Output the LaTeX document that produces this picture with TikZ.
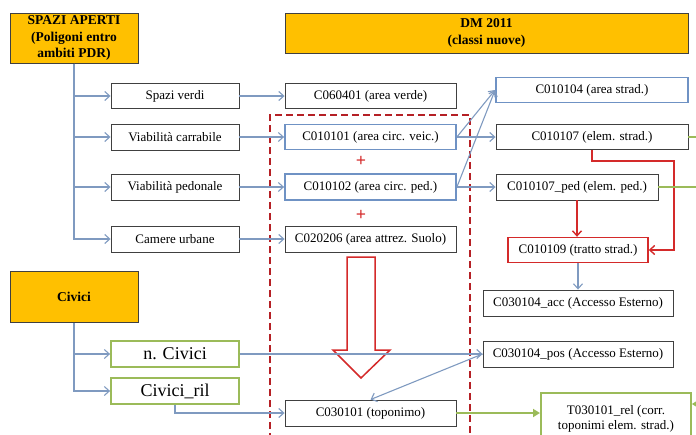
\documentclass[tikz,border=0pt]{standalone}
\usepackage{fontspec}
\setmainfont{Liberation Serif}
\usetikzlibrary{arrows.meta,positioning}
\definecolor{dmOrange}{HTML}{FFC000}
\definecolor{dmGrey}{HTML}{404040}
\definecolor{dmLink}{HTML}{7F9AC0}
\definecolor{dmBlue}{HTML}{6F92C4}
\definecolor{dmGreen}{HTML}{9BBB59}
\definecolor{dmRed}{HTML}{D42A2A}
\definecolor{dmDark}{HTML}{B52025}
\tikzset{
  >={Straight Barb[length=5pt,width=9pt]},
  head/.style={draw=dmGrey, fill=dmOrange, line width=1pt, align=center,
              font=\fontsize{13.5}{16.5}\selectfont\bfseries, inner sep=0pt},
  src/.style={draw=dmGrey, line width=0.9pt, minimum width=128pt, minimum height=26pt,
              font=\fontsize{13}{16}\selectfont, inner sep=0pt},
  civ/.style={src, draw=dmGreen, line width=1.8pt, font=\fontsize{18}{20}\selectfont},
  cls/.style={draw=dmGrey, line width=0.9pt, minimum height=26pt,
              font=\fontsize{13}{16}\selectfont, inner sep=0pt, align=center},
  clsblue/.style={cls, draw=dmBlue, line width=1.8pt},
  clsred/.style={cls, draw=dmRed, line width=1.4pt},
  clsgreen/.style={cls, draw=dmGreen, line width=1.8pt},
  plus/.style={text=dmRed, font=\fontsize{18}{20}\selectfont\bfseries, inner sep=0pt},
  link/.style={->, draw=dmLink, line width=1.1pt},
  redlink/.style={->, draw=dmRed, line width=1.4pt},
  greenlink/.style={-{Triangle[length=7pt,width=8pt]}, draw=dmGreen, line width=2pt},
  greenline/.style={draw=dmGreen, line width=2pt},
}

\begin{document}
\begin{tikzpicture}[x=1pt,y=-1pt]
  \useasboundingbox (0,0) rectangle (696,434);
  \clip (0,0) rectangle (696,434);

  % headers
  \node[head, minimum width=128pt, minimum height=50pt] (spazi) at (74,38)
    {SPAZI APERTI\\(Poligoni entro\\ambiti PDR)};
  \node[head, minimum width=403pt, minimum height=40pt] (dm) at (486.5,33)
    {DM 2011\\(classi nuove)};
  \node[head, minimum width=128pt, minimum height=51pt] (civici) at (74,297) {Civici};

  % source classes
  \node[src, minimum height=25pt] (verdi) at (175,96) {Spazi verdi};
  \node[src] (carr) at (175,137) {Viabilità carrabile};
  \node[src] (pedo) at (175,187) {Viabilità pedonale};
  \node[src] (camere) at (175,239) {Camere urbane};
  \node[civ] (ncivici) at (175,354) {n. Civici};
  \node[civ] (civril) at (175,391) {Civici\_ril};

  % DM 2011 classes
  \node[cls, minimum width=171pt, minimum height=25pt] (c060401) at (370.5,96) {C060401 (area verde)};
  \node[clsblue, minimum width=171pt, minimum height=25pt] (c010101) at (370.5,137) {C010101 (area circ. veic.)};
  \node[plus] (plusA) at (361,161) {+};
  \node[clsblue, minimum width=171pt] (c010102) at (370.5,187) {C010102 (area circ. ped.)};
  \node[plus] (plusB) at (361,215) {+};
  \node[cls, minimum width=171pt] (c020206) at (370.5,239) {C020206 (area attrez. Suolo)};
  \node[cls, minimum width=171pt] (c030101) at (370.5,413) {C030101 (toponimo)};

  \node[clsblue, minimum width=192pt, minimum height=25pt] (c010104) at (592,90) {C010104 (area strad.)};
  \node[cls, minimum width=192pt, minimum height=25pt] (c010107) at (592,137) {C010107 (elem. strad.)};
  \node[cls, minimum width=162pt] (c010107p) at (577,187) {C010107\_ped (elem. ped.)};
  \node[clsred, minimum width=140pt, minimum height=25pt] (c010109) at (578,250) {C010109 (tratto strad.)};
  \node[cls, minimum width=190pt] (c030104a) at (578,303) {C030104\_acc (Accesso Esterno)};
  \node[cls, minimum width=190pt] (c030104p) at (578,354) {C030104\_pos (Accesso Esterno)};
  \node[clsgreen, minimum width=150pt, minimum height=52pt, anchor=north west] (t030101) at (540,392)
    {\raisebox{11pt}{\begin{tabular}{@{}c@{}}T030101\_rel (corr.\\[-1pt]toponimi elem. strad.)\end{tabular}}};

  % dashed frame and hollow arrow
  \draw[dmDark, line width=1.5pt, dash pattern=on 7pt off 4pt]
    (270,440) -- (270,115) -- (470,115) -- (470,440);
  \draw[dmRed, line width=1.5pt, fill=white]
    (347,257) -- (375,257) -- (375,350) -- (390,350) -- (361,378)
    -- (333,350) -- (347,350) -- cycle;

  % trees
  \foreach \n in {verdi,carr,pedo,camere}
    \draw[link] (spazi.south) |- (\n.west);
  \foreach \n in {ncivici,civril}
    \draw[link] (civici.south) |- (\n.west);

  % links
  \draw[link] (verdi) -- (c060401);
  \draw[link] (carr) -- (c010101);
  \draw[link] (pedo) -- (c010102);
  \draw[link] (camere) -- (c020206);
  \draw[link] (c010101.east) -- (c010104.west);
  \draw[link] (c010102.east) -- (c010104.west);
  \draw[link] (c010101) -- (c010107);
  \draw[link] (c010102.east) -- (c010107p.west);
  \draw[link] (c010109) -- (c030104a);
  \draw[link] (ncivici) -- (c030104p);
  \draw[link] (c030104p.west) -- (c030101.north);
  \draw[link] (civril.south) |- (c030101.west);

  % red links
  \draw[redlink] (c010107.south) -- ++(0,11) -| (674,250) -- (c010109.east);
  \draw[redlink] (c010107p.south) -- (c010107p.south |- c010109.north);

  % green links
  \coordinate (edgeA) at (696,137);
  \coordinate (edgeB) at (696,187);
  \coordinate (edgeC) at (700,404);
  \draw[greenline] (c010107.east) -- (edgeA);
  \draw[greenline] (c010107p.east) -- (edgeB);
  \draw[greenlink] (edgeC) -- (t030101.east |- edgeC);
  \draw[greenlink] (c030101) -- (t030101.west |- c030101);
\end{tikzpicture}
\end{document}
